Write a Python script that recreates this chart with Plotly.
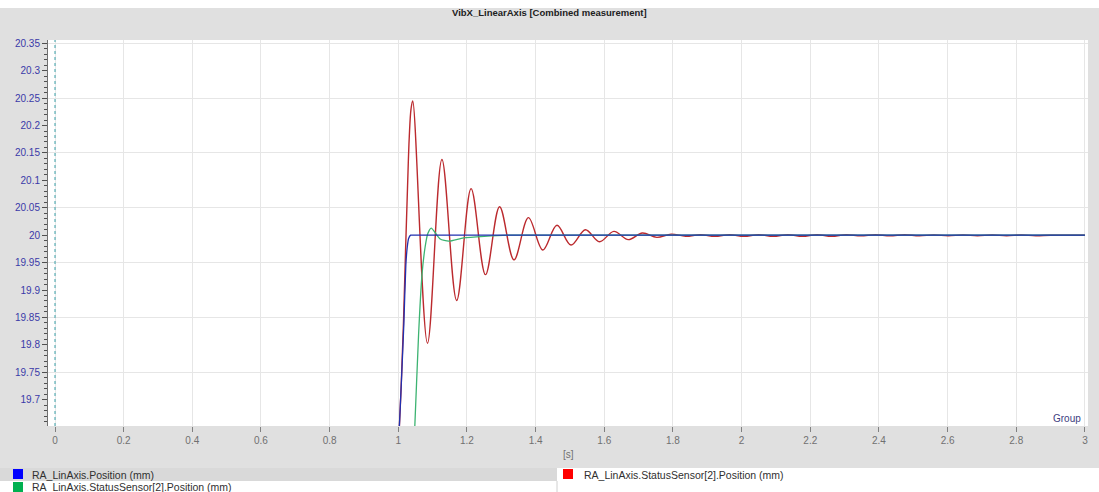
import plotly.graph_objects as go

# ---------------- data ----------------
BLUE_T = [0.980, 1.003, 1.009, 1.016, 1.022, 1.026, 1.030, 1.036, 1.050, 3.000]
BLUE_V = [19.35, 19.65, 19.733, 19.836, 19.946, 19.978, 19.994, 20.000, 20.000, 20.000]

GREEN_T = [1.030, 1.048, 1.059, 1.069, 1.078, 1.086, 1.096, 1.108, 1.122, 1.147,
           1.190, 1.250, 1.320, 1.400, 3.000]
GREEN_V = [19.40, 19.65, 19.818, 19.928, 19.978, 20.003, 20.013, 20.004, 19.993, 19.989,
           19.995, 19.998, 20.000, 20.000, 20.000]

RED_T = [0.980, 1.003, 1.009, 1.015, 1.021, 1.027, 1.032, 1.037, 1.042,
         1.085, 1.127, 1.170, 1.212, 1.254, 1.295, 1.337, 1.379, 1.421, 1.462,
         1.503, 1.545, 1.586, 1.628, 1.670, 1.711, 1.753, 1.795, 1.837, 1.880,
         1.922, 1.965, 2.007, 2.050, 2.092, 2.135, 2.177, 2.220, 2.262, 2.305,
         2.347, 2.390, 2.432, 2.475, 2.517, 2.560, 2.602, 2.645, 2.687, 2.730,
         2.772, 2.815, 2.857, 2.900, 3.000]
RED_V = [19.35, 19.65, 19.735, 19.84, 19.97, 20.09, 20.18, 20.23, 20.245,
         19.803, 20.138, 19.881, 20.085, 19.928, 20.052, 19.955, 20.032, 19.973, 20.018,
         19.982, 20.010, 19.988, 20.007, 19.992, 20.004, 19.996, 20.002, 19.998, 20.001,
         19.998, 20.001, 19.998, 20.001, 19.998, 20.001, 19.998, 20.001, 19.998, 20.001,
         19.999, 20.001, 19.999, 20.001, 19.999, 20.0005, 19.999, 20.0005, 19.999, 20.0005,
         19.999, 20.0005, 19.999, 20.000, 20.000]

X_TICKS = [0, 0.2, 0.4, 0.6, 0.8, 1, 1.2, 1.4, 1.6, 1.8, 2, 2.2, 2.4, 2.6, 2.8, 3]
X_LABELS = ["0", "0.2", "0.4", "0.6", "0.8", "1", "1.2", "1.4", "1.6", "1.8",
            "2", "2.2", "2.4", "2.6", "2.8", "3"]
Y_TICKS = [19.7, 19.75, 19.8, 19.85, 19.9, 19.95, 20.0, 20.05, 20.1, 20.15,
           20.2, 20.25, 20.3, 20.35]
Y_LABELS = ["19.7", "19.75", "19.8", "19.85", "19.9", "19.95", "20", "20.05",
            "20.1", "20.15", "20.2", "20.25", "20.3", "20.35"]

TITLE = "VibX_LinearAxis [Combined measurement]"
NAMES = ["RA_LinAxis.Position (mm)",
         "RA_LinAxis.StatusSensor[2].Position (mm)",
         "RA_LinAxis.StatusSensor[2].Position (mm)"]
CURSOR_T = 0.0

# ---------------- layout geometry ----------------
W, H = 1099, 492
L, R, T, B = 48, 1088, 40, 426
FONT = "Liberation Sans"


def px(xp):
    return (xp - L) / (R - L)


def py(yp):
    return (B - yp) / (B - T)


fig = go.Figure()
# empty trace so that the grid axis (y2) is drawn
fig.add_trace(go.Scatter(x=[], y=[], yaxis="y2", showlegend=False, hoverinfo="skip"))
fig.add_trace(go.Scatter(x=RED_T, y=RED_V, mode="lines", name=NAMES[2],
                         line=dict(color="#bb2a2e", width=1.4, shape="spline", smoothing=1.0)))
fig.add_trace(go.Scatter(x=GREEN_T, y=GREEN_V, mode="lines", name=NAMES[1],
                         line=dict(color="#3cb371", width=1.3, shape="spline", smoothing=0.6)))
fig.add_trace(go.Scatter(x=BLUE_T, y=BLUE_V, mode="lines", name=NAMES[0],
                         line=dict(color="#2030b0", width=1.3, shape="spline", smoothing=0.6)))

shapes = []
shapes.append(dict(type="rect", xref="paper", yref="paper", x0=px(0), x1=px(W),
                   y0=py(0), y1=py(8), fillcolor="white", line_width=0, layer="below"))
shapes.append(dict(type="rect", xref="paper", yref="paper", x0=px(0), x1=px(W),
                   y0=py(468), y1=py(H), fillcolor="white", line_width=0, layer="below"))
shapes.append(dict(type="rect", xref="paper", yref="paper", x0=px(0), x1=px(557),
                   y0=py(468), y1=py(481), fillcolor="#d9d9d9", line_width=0, layer="below"))
shapes.append(dict(type="line", xref="paper", yref="paper", x0=px(557), x1=px(557),
                   y0=py(481), y1=py(H), line=dict(color="#d0d0d0", width=1)))
for (x0, y0, col) in [(13, 469, "#0000ff"), (13, 482, "#00b050"), (563, 469, "#ff0000")]:
    shapes.append(dict(type="rect", xref="paper", yref="paper", x0=px(x0), x1=px(x0 + 10),
                       y0=py(y0), y1=py(y0 + 10), fillcolor=col, line_width=0))
shapes.append(dict(type="line", xref="x", yref="paper", x0=CURSOR_T, x1=CURSOR_T,
                   y0=0, y1=1, line=dict(color="#3aa0a8", width=1, dash="dot")))

annotations = [
    dict(text="<b>" + TITLE + "</b>", xref="paper", yref="paper", x=px(W / 2), y=py(13),
         xanchor="center", yanchor="middle", showarrow=False,
         font=dict(family=FONT, size=9.5, color="#202020")),
    dict(text="[s]", xref="paper", yref="paper", x=0.5, y=py(454), xanchor="center",
         yanchor="middle", showarrow=False, font=dict(family=FONT, size=10, color="#707070")),
    dict(text="Group", xref="paper", yref="paper", x=px(1083), y=py(418), xanchor="right",
         yanchor="middle", showarrow=False, font=dict(family=FONT, size=10, color="#404080")),
    dict(text=NAMES[0], xref="paper", yref="paper", x=px(30), y=py(474.5), xanchor="left",
         yanchor="middle", showarrow=False, font=dict(family=FONT, size=10.5, color="#303030")),
    dict(text=NAMES[1], xref="paper", yref="paper", x=px(30), y=py(487), xanchor="left",
         yanchor="middle", showarrow=False, font=dict(family=FONT, size=10.5, color="#303030")),
    dict(text=NAMES[2], xref="paper", yref="paper", x=px(582), y=py(474.5), xanchor="left",
         yanchor="middle", showarrow=False, font=dict(family=FONT, size=10.5, color="#303030")),
]

y_range = [19.652, 20.356]
fig.update_layout(
    width=W, height=H,
    margin=dict(l=L, r=W - R, t=T, b=H - B, pad=0),
    paper_bgcolor="#e0e0e0", plot_bgcolor="white",
    showlegend=False,
    shapes=shapes, annotations=annotations,
    font=dict(family=FONT, size=10),
    xaxis=dict(range=[-0.0204, 3.009], tickvals=X_TICKS, ticktext=X_LABELS,
               showgrid=True, gridcolor="#e6e6e6", gridwidth=1, zeroline=False,
               ticks="outside", ticklen=5, tickcolor="#808080", showline=False,
               tickfont=dict(family=FONT, size=10, color="#707070")),
    yaxis=dict(range=y_range, tickvals=Y_TICKS, ticktext=Y_LABELS, showgrid=False,
               zeroline=False, ticks="outside", ticklen=5, tickcolor="#505050",
               showline=True, linecolor="#707070", linewidth=1,
               minor=dict(dtick=0.01, ticks="outside", ticklen=3, tickcolor="#505050"),
               tickfont=dict(family=FONT, size=10, color="#3a3aa8")),
    yaxis2=dict(range=y_range, overlaying="y", side="right", tick0=19.65, dtick=0.1,
                showgrid=True, gridcolor="#e6e6e6", showticklabels=False, ticks="",
                zeroline=False, showline=False),
)

fig.write_html("out.html")
